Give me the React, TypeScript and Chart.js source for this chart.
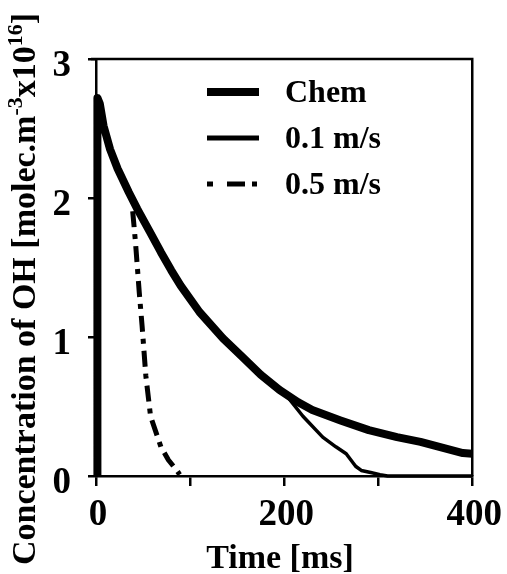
import React, { useEffect, useRef } from 'react';
import { Chart, registerables } from 'chart.js';

Chart.register(...registerables);

const FONT = "'Liberation Serif', 'Times New Roman', Times, serif";

// Series labels
const seriesLabels = ['Chem', '0.1 m/s', '0.5 m/s'];

// Chem (pure chemistry)
const chemTime = [1.5, 1.5, 4, 8, 15, 23, 35, 44, 57, 69, 80, 90, 110, 135, 155, 175, 195, 215, 230, 260, 290, 320, 345, 370, 390, 400];
const chemConc = [0, 2.72, 2.68, 2.52, 2.35, 2.21, 2.04, 1.92, 1.76, 1.61, 1.48, 1.37, 1.18, 0.99, 0.86, 0.73, 0.62, 0.53, 0.475, 0.4, 0.33, 0.28, 0.245, 0.2, 0.165, 0.16];

// 0.1 m/s
const slowTime = [1.5, 1.5, 4, 8, 15, 23, 35, 44, 57, 69, 80, 90, 110, 135, 155, 175, 195, 206, 220, 241, 255, 266, 276, 282, 292, 302, 310, 400];
const slowConc = [0, 2.72, 2.68, 2.52, 2.35, 2.21, 2.04, 1.92, 1.76, 1.61, 1.48, 1.37, 1.18, 0.99, 0.86, 0.73, 0.62, 0.55, 0.43, 0.28, 0.21, 0.16, 0.07, 0.04, 0.025, 0.01, 0, 0];

// 0.5 m/s
const fastTime = [39, 42, 46, 49, 53, 58, 69, 77, 86, 89];
const fastConc = [1.905, 1.68, 1.32, 1.08, 0.72, 0.43, 0.21, 0.115, 0.04, 0.01];

// Axis ticks
const xLabelledTicks = [0, 200, 400];
const xTickStep = 100;
const yTickStep = 1;

const xTitle = 'Time [ms]';
const yTitleParts: { t: string; sup?: boolean }[] = [
  { t: 'Concentration of OH [molec.m' },
  { t: '-3', sup: true },
  { t: 'x10' },
  { t: '16', sup: true },
  { t: ']' },
];

const toPoints = (xs: number[], ys: number[]) => xs.map((x, i) => ({ x, y: ys[i] }));

const decorPlugin = {
  id: 'decor',
  beforeDatasetsDraw(chart: any) {
    const { ctx, chartArea } = chart;
    ctx.save();
    ctx.strokeStyle = '#000';
    ctx.lineWidth = 2.5;
    ctx.beginPath();
    ctx.moveTo(chartArea.left - 5, chartArea.top);
    ctx.lineTo(chartArea.right, chartArea.top);
    ctx.lineTo(chartArea.right, chartArea.bottom);
    ctx.stroke();
    ctx.restore();
  },
  afterDatasetsDraw(chart: any) {
    const { ctx } = chart;
    const legendWidths = [8, 5, 5];
    const legendDash = [[], [], [6, 14, 18, 7, 5, 100]];
    const baselines = [102, 148, 194];
    ctx.save();
    chart.data.datasets.forEach((ds: any, i: number) => {
      const yb = baselines[i];
      const yl = yb - 10;
      ctx.beginPath();
      ctx.setLineDash(legendDash[i]);
      ctx.lineWidth = legendWidths[i];
      ctx.strokeStyle = '#000';
      ctx.lineCap = 'butt';
      ctx.moveTo(207, yl);
      ctx.lineTo(259, yl);
      ctx.stroke();
      ctx.setLineDash([]);
      ctx.fillStyle = '#000';
      ctx.font = `bold 32px ${FONT}`;
      ctx.textAlign = 'left';
      ctx.textBaseline = 'alphabetic';
      ctx.fillText(ds.label, 285, yb);
    });
    ctx.restore();
  },
  afterDraw(chart: any) {
    const { ctx } = chart;
    ctx.save();
    ctx.fillStyle = '#000';
    ctx.textBaseline = 'alphabetic';
    // x title
    ctx.font = `bold 34px ${FONT}`;
    ctx.textAlign = 'center';
    ctx.fillText(xTitle, 280, 568);
    // y title with superscripts
    const size = 34;
    const supSize = 22;
    const fontFor = (sup?: boolean) => `bold ${sup ? supSize : size}px ${FONT}`;
    let total = 0;
    const widths = yTitleParts.map((p) => {
      ctx.font = fontFor(p.sup);
      const w = ctx.measureText(p.t).width;
      total += w;
      return w;
    });
    ctx.translate(35, 289);
    ctx.rotate(-Math.PI / 2);
    ctx.textAlign = 'left';
    let x = -total / 2;
    yTitleParts.forEach((p, i) => {
      ctx.font = fontFor(p.sup);
      ctx.fillText(p.t, x, p.sup ? -13 : 0);
      x += widths[i];
    });
    ctx.restore();
  },
};

export default function App() {
  const ref = useRef<HTMLCanvasElement>(null);
  useEffect(() => {
    if (!ref.current) return;
    const common = { pointRadius: 0, borderColor: '#000', backgroundColor: '#000', fill: false, tension: 0, clip: false as any, borderJoinStyle: 'round' as const };
    const chart = new Chart(ref.current, {
      type: 'line',
      data: {
        datasets: [
          { ...common, label: seriesLabels[0], data: toPoints(chemTime, chemConc), borderWidth: 8 },
          { ...common, label: seriesLabels[1], data: toPoints(slowTime, slowConc), borderWidth: 3.5 },
          { ...common, label: seriesLabels[2], data: toPoints(fastTime, fastConc), borderWidth: 5, borderDash: [16, 7, 5, 7] },
        ],
      },
      options: {
        animation: false,
        responsive: false,
        events: [],
        layout: { padding: { top: 59, right: 33, left: 0, bottom: 0 } },
        plugins: { legend: { display: false }, tooltip: { enabled: false }, title: { display: false } },
        scales: {
          x: {
            type: 'linear',
            min: 0,
            max: 400,
            afterFit: (s: any) => { s.height = 98; },
            ticks: {
              stepSize: xTickStep,
              autoSkip: false,
              maxRotation: 0,
              padding: 7,
              labelOffset: 2,
              color: '#000',
              font: { family: FONT, size: 37, weight: 'bold' },
              callback: (v: any) => (xLabelledTicks.includes(Number(v)) ? String(v) : ''),
            },
            grid: { drawOnChartArea: false, drawTicks: true, tickLength: 10, color: '#000', lineWidth: 2.5 },
            border: { display: true, color: '#000', width: 2.5 },
          },
          y: {
            type: 'linear',
            min: 0,
            max: 3,
            afterFit: (s: any) => { s.width = 96; },
            ticks: {
              stepSize: yTickStep,
              padding: 17,
              labelOffset: 7,
              color: '#000',
              font: { family: FONT, size: 37, weight: 'bold' },
            },
            grid: { drawOnChartArea: false, drawTicks: true, tickLength: 8, color: '#000', lineWidth: 2.5 },
            border: { display: true, color: '#000', width: 2.5 },
          },
        },
      },
      plugins: [decorPlugin],
    });
    return () => chart.destroy();
  }, []);
  return (
    <div style={{ position: 'fixed', left: 0, top: 0, width: 507, height: 574, background: '#fff' }}>
      <canvas ref={ref} width={507} height={574} />
    </div>
  );
}
